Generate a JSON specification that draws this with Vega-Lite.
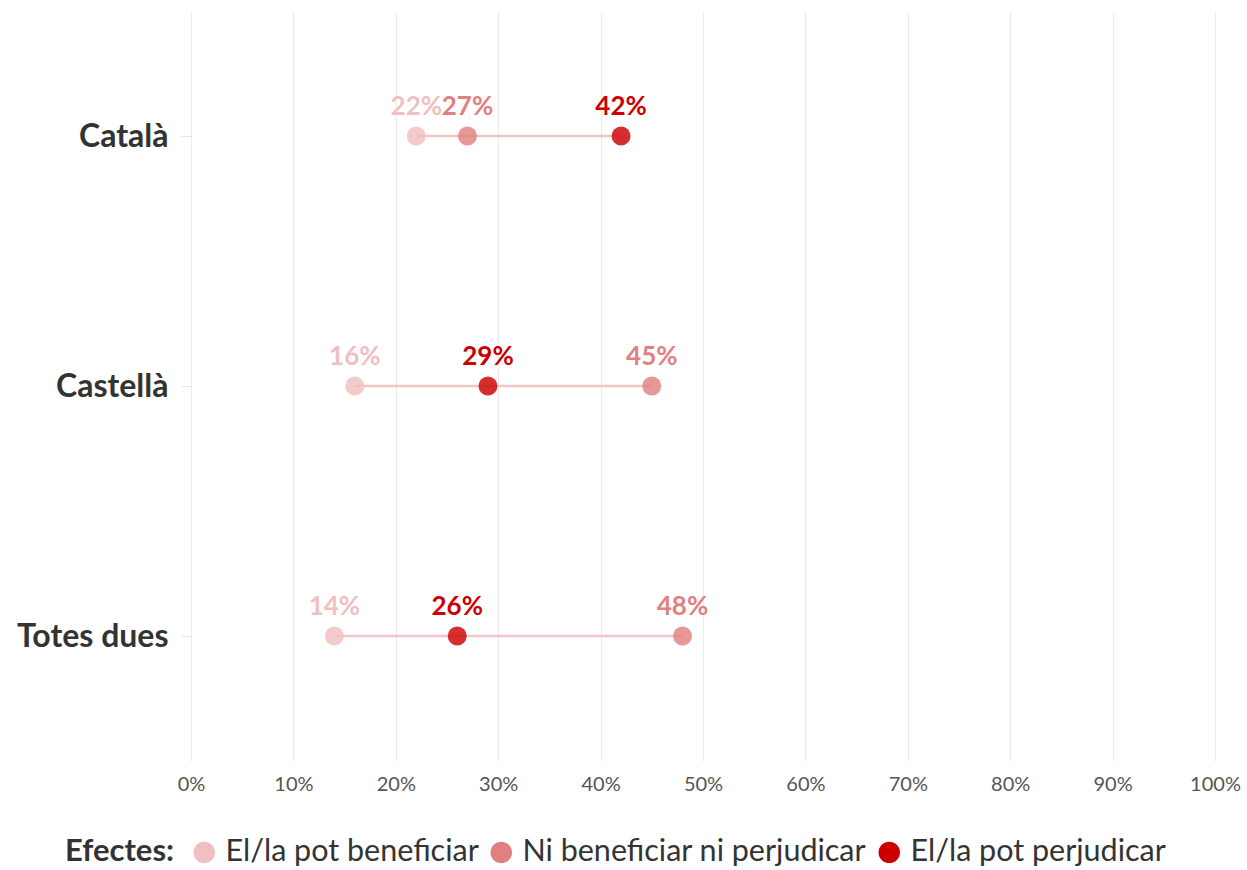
{
  "$schema": "https://vega.github.io/schema/vega-lite/v6.json",
  "width": 1024,
  "height": 750,
  "autosize": {"type": "none"},
  "padding": {"left": 191, "top": 11, "right": 32, "bottom": 109},
  "background": "white",
  "config": {
    "font": "Lato",
    "view": {"stroke": null}
  },
  "data": {
    "values": [
      {"llengua": "Català", "efecte": "El/la pot beneficiar", "valor": 0.22},
      {"llengua": "Català", "efecte": "Ni beneficiar ni perjudicar", "valor": 0.27},
      {"llengua": "Català", "efecte": "El/la pot perjudicar", "valor": 0.42},
      {"llengua": "Castellà", "efecte": "El/la pot beneficiar", "valor": 0.16},
      {"llengua": "Castellà", "efecte": "Ni beneficiar ni perjudicar", "valor": 0.45},
      {"llengua": "Castellà", "efecte": "El/la pot perjudicar", "valor": 0.29},
      {"llengua": "Totes dues", "efecte": "El/la pot beneficiar", "valor": 0.14},
      {"llengua": "Totes dues", "efecte": "Ni beneficiar ni perjudicar", "valor": 0.48},
      {"llengua": "Totes dues", "efecte": "El/la pot perjudicar", "valor": 0.26}
    ]
  },
  "encoding": {
    "x": {
      "field": "valor", "type": "quantitative",
      "scale": {"domain": [0, 1], "nice": false},
      "axis": {
        "title": null, "format": ".0%", "values": [0,0.1,0.2,0.3,0.4,0.5,0.6,0.7,0.8,0.9,1],
        "domain": false, "ticks": false, "grid": true, "gridColor": "#ebebeb", "gridWidth": 1,
        "labelFontSize": 20, "labelColor": "#555555", "labelPadding": 13, "labelFont": "Lato",
        "labelFlush": false, "labelOverlap": false
      }
    },
    "y": {
      "field": "llengua", "type": "nominal",
      "sort": ["Català", "Castellà", "Totes dues"],
      "scale": {"type": "point", "padding": 0.5},
      "axis": {
        "title": null, "domain": false, "ticks": true, "tickColor": "#e6e6e6", "tickSize": 10,
        "grid": false, "labelFontSize": 32, "labelFontWeight": "bold", "labelColor": "#333333",
        "labelPadding": 13, "labelFont": "Lato", "labelLimit": 300
      }
    }
  },
  "layer": [
    {
      "mark": {"type": "line", "color": "#f0c0c0", "strokeWidth": 2.5, "opacity": 0.9},
      "encoding": {"detail": {"field": "llengua"}, "order": {"field": "valor"}}
    },
    {
      "mark": {"type": "circle", "size": 360, "opacity": 0.82},
      "encoding": {
        "color": {
          "field": "efecte", "type": "nominal",
          "scale": {
            "domain": ["El/la pot beneficiar", "Ni beneficiar ni perjudicar", "El/la pot perjudicar"],
            "range": ["#f0c0c0", "#e08080", "#cc0000"]
          },
          "legend": {
            "title": "Efectes:", "orient": "none", "direction": "horizontal",
            "legendX": -126, "legendY": 826,
            "titleOrient": "left", "titleFontSize": 31, "titleFontWeight": "bold", "titleColor": "#333333",
            "titleFont": "Lato", "titlePadding": 14,
            "labelFontSize": 30.5, "labelColor": "#333333", "labelFont": "Lato",
            "symbolType": "circle", "symbolSize": 460, "symbolOpacity": 1, "symbolStrokeWidth": 0,
            "labelOffset": 6, "columnPadding": 7, "labelLimit": 500
          }
        }
      }
    },
    {
      "mark": {"type": "text", "dy": -29, "fontSize": 26, "fontWeight": "bold", "font": "Lato"},
      "encoding": {
        "text": {"field": "valor", "type": "quantitative", "format": ".0%"},
        "color": {"field": "efecte", "type": "nominal", "legend": null}
      }
    }
  ]
}
